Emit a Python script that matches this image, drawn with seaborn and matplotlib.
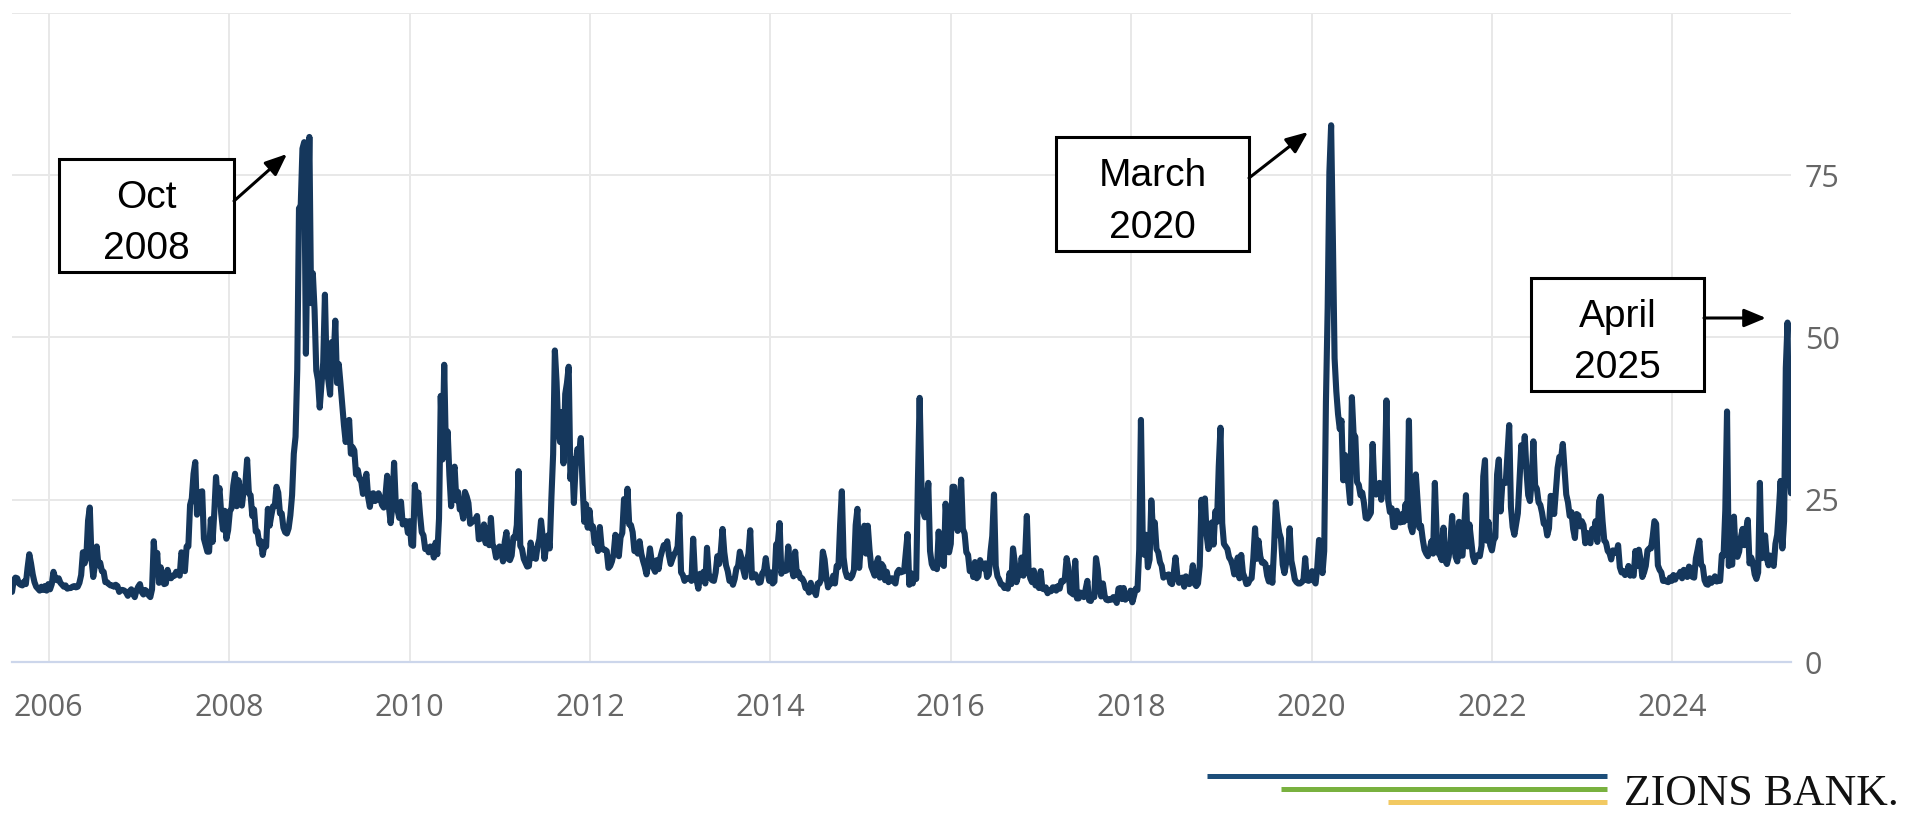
import pandas as pd
import matplotlib
matplotlib.use("Agg")
import matplotlib.pyplot as plt
from matplotlib.patches import Rectangle, FancyArrowPatch
from matplotlib.lines import Line2D
import seaborn as sns

# Weekly (Friday) VIX readings, one list per calendar year
start_date = "2005-08-05"
end_date = "2025-04-25"

vix_2005 = [10.8, 12.6, 13.0, 12.9, 12.1, 11.9, 11.8, 12.4, 12.0, 14.5, 16.6, 15.2, 13.5,
            12.3, 11.6, 11.3, 11.0, 11.6, 11.1, 11.7, 11.0, 12.0]
vix_2006 = [11.2, 12.0, 13.9, 12.9, 12.6, 12.9, 12.2, 11.9, 11.6, 11.8, 11.3, 11.4, 11.4,
            11.6, 11.7, 11.5, 11.6, 12.2, 13.4, 16.9, 15.2, 16.2, 21.8, 23.8, 15.8, 13.1,
            15.0, 17.8, 14.9, 15.3, 14.0, 13.9, 12.3, 12.3, 12.0, 11.8, 11.8, 11.6, 11.9,
            11.7, 10.8, 11.1, 11.1, 11.0, 10.7, 10.2, 10.9, 11.2, 10.5, 10.0, 11.0, 11.6]
vix_2007 = [12.0, 10.8, 10.4, 11.1, 10.9, 10.3, 10.0, 11.2, 18.6, 14.4, 16.8, 12.2, 14.6,
            13.2, 12.0, 12.1, 14.2, 13.1, 12.9, 13.3, 13.3, 13.9, 13.7, 13.3, 16.9, 16.2,
            14.0, 17.8, 17.8, 24.2, 25.2, 29.0, 30.8, 22.7, 23.4, 26.2, 26.3, 19.0, 18.0,
            17.0, 17.0, 22.0, 18.5, 23.0, 28.5, 24.9, 26.8, 22.9, 20.4, 23.3, 19.0, 20.3]
vix_2008 = [23.2, 23.7, 27.2, 29.0, 24.0, 28.0, 25.0, 24.1, 26.5, 27.5, 31.2, 26.0, 25.7,
            22.5, 23.5, 20.1, 20.1, 18.2, 18.6, 16.5, 18.0, 17.8, 23.6, 21.0, 22.6, 24.0,
            24.0, 27.0, 26.1, 22.9, 22.9, 20.7, 20.0, 19.8, 20.6, 22.6, 25.7, 32.1, 34.7,
            45.1, 69.9, 70.3, 79.1, 80.1, 47.5, 66.3, 80.9, 55.3, 59.9, 54.3, 44.9, 43.4]
vix_2009 = [39.2, 42.8, 46.1, 56.6, 44.8, 43.4, 41.2, 49.3, 46.4, 52.6, 43.0, 45.9, 42.9,
            39.7, 36.5, 33.9, 35.3, 37.3, 32.1, 33.1, 32.6, 28.9, 29.6, 28.2, 27.9, 25.9,
            27.9, 29.0, 25.4, 23.9, 25.9, 26.0, 24.8, 25.0, 26.0, 25.3, 24.2, 23.8, 25.6,
            28.7, 24.0, 21.4, 24.0, 30.7, 24.2, 23.4, 22.2, 24.7, 21.2, 21.6, 21.7, 19.9]
vix_2010 = [21.7, 18.1, 17.9, 27.3, 24.6, 26.1, 22.7, 20.0, 19.5, 17.4, 17.6, 16.9, 17.8,
            17.5, 16.1, 18.4, 16.6, 22.1, 41.0, 31.2, 45.8, 32.1, 35.5, 28.8, 24.0, 29.0,
            30.1, 24.9, 26.2, 23.5, 23.5, 22.1, 26.2, 25.5, 24.5, 21.3, 21.6, 21.7, 22.0,
            22.5, 18.9, 19.0, 19.1, 21.2, 18.3, 20.6, 18.0, 22.2, 18.0, 17.6, 16.1, 16.5, 17.8]
vix_2011 = [17.1, 15.5, 18.5, 20.0, 15.9, 15.7, 16.4, 19.2, 19.1, 21.1, 29.4, 17.9,
            17.4, 15.9, 15.3, 14.7, 14.8, 18.4, 16.0, 17.4, 15.9, 17.9, 18.9, 21.8, 19.2,
            15.9, 17.9, 19.5, 17.5, 25.3, 32.0, 48.0, 43.1, 35.6, 33.9, 38.5, 30.6, 41.3, 43.0,
            45.5, 28.2, 31.3, 24.5, 30.2, 32.8, 32.0, 34.5, 27.5, 21.6, 24.3, 20.7, 23.4]
vix_2012 = [20.6, 20.9, 18.3, 18.5, 17.1, 20.8, 17.8, 17.3, 17.3, 17.1, 14.5, 14.8, 15.5,
            16.7, 19.6, 17.4, 16.3, 19.2, 19.9, 25.1, 21.8, 26.7, 21.2, 21.1, 20.0, 17.1,
            17.1, 16.7, 18.6, 16.7, 15.6, 14.7, 13.5, 15.2, 17.5, 15.6, 14.5, 13.9, 15.7,
            14.3, 16.1, 17.1, 18.0, 17.6, 18.6, 16.4, 15.1, 15.9, 16.6, 17.0, 17.8, 22.7]
vix_2013 = [13.8, 13.4, 12.5, 12.9, 12.9, 13.0, 12.5, 19.0, 13.5, 12.6, 11.3, 13.6, 12.7,
            13.9, 12.1, 17.6, 13.6, 12.9, 12.6, 12.5, 13.8, 16.3, 15.1, 17.1, 20.5, 16.9,
            14.9, 14.0, 12.5, 12.7, 11.9, 12.8, 14.4, 14.8, 17.0, 15.9, 14.2, 13.1, 15.5,
            16.7, 20.3, 13.0, 13.1, 13.5, 12.9, 12.2, 12.3, 13.7, 14.0, 16.0, 13.8, 12.5]
vix_2014 = [13.8, 12.1, 12.4, 18.1, 18.4, 21.4, 13.6, 14.7, 14.0, 14.1, 17.8, 15.0, 14.4,
            13.2, 17.0, 13.4, 13.8, 12.9, 12.9, 12.4, 11.4, 11.4, 10.7, 12.2, 10.9, 11.3,
            10.3, 12.1, 12.1, 12.7, 17.0, 15.8, 13.2, 11.5, 12.1, 12.1, 13.3, 12.1, 14.8,
            14.6, 21.2, 26.3, 16.1, 14.0, 13.1, 13.3, 12.9, 13.3, 14.2, 21.1, 23.6, 14.5]
vix_2015 = [17.8, 17.6, 21.0, 16.7, 21.0, 17.3, 14.7, 14.0, 13.3, 15.2, 16.0, 13.0, 15.1,
            14.7, 12.6, 13.9, 12.3, 12.7, 12.9, 12.4, 12.1, 13.8, 14.2, 13.8, 13.9, 14.0,
            16.8, 19.7, 11.9, 13.7, 12.1, 13.4, 12.8, 28.0, 40.7, 27.8, 23.2, 22.3, 23.6,
            27.6, 17.1, 15.1, 14.5, 15.1, 14.3, 20.1, 15.5, 15.1, 14.8, 24.4, 20.7, 16.9]
vix_2016 = [18.2, 27.0, 27.0, 22.3, 20.2, 23.4, 28.1, 20.5, 19.8, 16.9, 16.5, 14.0, 14.7,
            13.1, 15.4, 12.9, 13.2, 15.7, 14.7, 14.4, 15.2, 13.1, 13.5, 17.0, 19.4, 25.8,
            14.8, 13.2, 12.7, 12.0, 11.9, 11.4, 11.6, 11.3, 13.7, 12.0, 17.5, 15.4, 12.3, 13.3,
            13.5, 16.1, 13.3, 16.2, 22.5, 14.2, 12.9, 12.3, 14.1, 11.8, 12.2, 11.4, 14.0]
vix_2017 = [11.3, 11.2, 11.5, 10.6, 11.0, 10.9, 11.5, 11.5, 11.0, 11.7, 11.3, 12.5, 12.4,
            12.9, 16.0, 14.6, 10.8, 10.6, 10.4, 15.6, 9.8, 9.8, 10.7, 10.4, 10.0, 11.2,
            12.5, 9.5, 9.4, 10.3, 10.0, 16.0, 14.3, 11.3, 10.1, 12.1, 10.2, 9.6, 9.5,
            9.7, 9.6, 10.0, 9.8, 9.1, 11.3, 11.4, 9.7, 11.4, 9.6, 10.5, 9.9, 11.0]
vix_2018 = [9.2, 10.2, 11.3, 11.1, 17.3, 37.3, 19.5, 16.5, 19.6, 14.6, 15.8, 24.9, 20.0,
            21.5, 17.4, 16.9, 15.4, 14.8, 13.0, 13.4, 13.2, 13.5, 12.2, 12.0, 13.8, 16.1,
            13.4, 12.2, 12.9, 13.0, 11.6, 13.2, 12.6, 12.0, 12.9, 14.9, 12.1, 11.7, 12.1,
            14.8, 25.0, 19.9, 25.2, 19.5, 17.4, 18.1, 21.5, 18.1, 23.2, 21.6, 30.1, 36.1]
vix_2019 = [21.4, 18.2, 17.8, 17.4, 16.1, 15.7, 14.9, 13.5, 14.6, 16.1, 12.9, 16.5, 13.7,
            13.0, 12.0, 12.1, 12.7, 12.9, 16.0, 20.6, 15.9, 18.7, 16.3, 15.3, 15.4, 15.1,
            13.3, 12.4, 14.5, 12.2, 17.6, 24.6, 21.7, 19.9, 19.0, 15.0, 13.7, 15.3, 16.0,
            20.6, 15.6, 14.3, 12.7, 12.3, 12.1, 12.1, 12.3, 12.6, 16.0, 12.6, 12.5, 12.7]
vix_2020 = [14.0, 12.6, 12.1, 14.6, 18.8, 15.5, 13.7, 17.1, 40.1, 54.5, 75.5, 82.7, 65.5,
            46.8, 41.7, 38.2, 35.9, 37.2, 28.0, 31.9, 28.2, 27.5, 24.5, 40.8, 35.1, 34.7,
            27.7, 27.3, 25.7, 26.1, 24.5, 22.2, 22.1, 22.5, 23.0, 33.6, 26.9, 25.8, 26.4,
            27.6, 25.0, 27.4, 27.6, 40.3, 24.9, 23.1, 23.7, 20.8, 20.8, 23.3, 21.6, 21.5]
vix_2021 = [22.8, 21.6, 24.3, 21.9, 37.2, 20.9, 20.0, 22.1, 28.9, 24.7, 20.7, 21.0, 18.9,
            17.3, 16.7, 16.3, 17.3, 18.6, 16.7, 27.6, 20.2, 16.8, 16.4, 15.7, 20.7, 15.6,
            15.1, 16.2, 18.5, 22.5, 18.2, 16.2, 15.5, 21.6, 16.4, 16.4, 21.0, 25.7, 17.8,
            21.2, 18.8, 16.3, 15.4, 16.3, 16.5, 16.3, 17.9, 28.6, 31.1, 18.7, 21.6, 18.0, 17.2]
vix_2022 = [18.8, 19.2, 28.9, 31.2, 23.2, 27.4, 27.8, 27.6, 32.0, 36.5, 23.9, 20.8,
            19.6, 21.2, 22.9, 28.2, 33.4, 30.2, 34.8, 29.4, 25.7, 24.8, 27.8, 34.0, 27.2,
            26.7, 24.6, 24.2, 23.0, 21.3, 21.2, 19.5, 20.6, 25.6, 25.5, 22.8, 26.3, 29.9, 31.6,
            31.4, 33.6, 29.7, 25.8, 24.6, 22.5, 23.1, 20.5, 19.1, 22.8, 22.6, 20.9, 21.7]
vix_2023 = [21.1, 18.3, 19.9, 18.5, 18.3, 20.5, 20.0, 21.7, 18.5, 24.8, 25.5, 21.7, 18.7,
            18.4, 17.1, 16.8, 15.8, 17.2, 17.0, 16.8, 18.0, 14.6, 13.8, 14.0, 13.4, 13.6,
            14.8, 13.3, 13.6, 13.3, 17.1, 14.8, 17.3, 15.7, 13.1, 13.8, 14.8, 17.2, 17.5,
            17.5, 19.3, 21.7, 21.3, 14.9, 14.2, 13.8, 12.5, 12.6, 12.4, 12.3, 13.0, 12.5]
vix_2024 = [13.4, 12.7, 13.3, 13.3, 13.9, 12.9, 14.2, 13.8, 13.1, 14.7, 14.4, 13.1, 13.0,
            16.0, 17.3, 18.7, 15.0, 14.7, 12.6, 12.0, 11.9, 12.9, 12.2, 12.7, 13.2, 12.4,
            12.5, 12.5, 16.5, 16.4, 23.4, 38.6, 14.8, 15.9, 15.0, 22.4, 16.6, 16.2, 17.0,
            19.2, 20.5, 18.0, 20.3, 21.9, 15.2, 16.1, 15.2, 13.5, 12.8, 13.8, 27.6, 16.0]
vix_2025 = [16.1, 19.5, 16.0, 14.9, 16.4, 15.5, 14.8, 18.2, 19.6, 23.4, 27.9, 17.5, 21.7,
            45.3, 52.3, 29.7, 26.0]

tick_years = [2006, 2008, 2010, 2012, 2014, 2016, 2018, 2020, 2022, 2024]
y_ticks = [0, 25, 50, 75, 100]
y_tick_labels = ["0", "25", "50", "75", ""]

callouts = ["Oct\n2008", "March\n2020", "April\n2025"]

yearly = {
    2005: vix_2005, 2006: vix_2006, 2007: vix_2007, 2008: vix_2008, 2009: vix_2009,
    2010: vix_2010, 2011: vix_2011, 2012: vix_2012, 2013: vix_2013, 2014: vix_2014,
    2015: vix_2015, 2016: vix_2016, 2017: vix_2017, 2018: vix_2018, 2019: vix_2019,
    2020: vix_2020, 2021: vix_2021, 2022: vix_2022, 2023: vix_2023, 2024: vix_2024,
    2025: vix_2025,
}

frames = []
for year, vals in yearly.items():
    lo = max(pd.Timestamp(start_date), pd.Timestamp(f"{year}-01-01"))
    hi = min(pd.Timestamp(end_date), pd.Timestamp(f"{year}-12-31"))
    fridays = pd.date_range(lo, hi, freq="W-FRI")
    if len(fridays) != len(vals):
        raise ValueError(f"{year}: {len(fridays)} fridays but {len(vals)} values")
    frames.append(pd.DataFrame({"date": fridays, "vix": vals}))
df = pd.concat(frames, ignore_index=True)

# Style
sns.set_style("white")
plt.rcParams["font.family"] = ["Open Sans", "DejaVu Sans"]

W, H = 1921, 817
fig = plt.figure(figsize=(W / 100, H / 100), dpi=100)
ax = fig.add_axes([12 / W, (H - 662) / H, (1791 - 12) / W, (662 - 13) / H])

sns.lineplot(data=df, x="date", y="vix", ax=ax, color="#15375c", linewidth=4.4)

ax.set_xlim(df["date"].iloc[0], df["date"].iloc[-1])
ax.set_ylim(0, 100)
ax.set_xlabel("")
ax.set_ylabel("")

ax.set_xticks([pd.Timestamp(f"{y}-01-01") for y in tick_years])
ax.set_xticklabels([str(y) for y in tick_years])
ax.yaxis.tick_right()
ax.set_yticks(y_ticks)
ax.set_yticklabels(y_tick_labels)

ax.grid(True, color="#e8e8e8", linewidth=1.4)
ax.set_axisbelow(True)
ax.tick_params(axis="x", length=14, width=1.4, color="#ccd6eb",
               labelsize=22, labelcolor="#666666", pad=8)
ax.tick_params(axis="y", length=0, labelsize=22, labelcolor="#666666", pad=10)

for side in ["top", "left", "right"]:
    ax.spines[side].set_visible(False)
ax.spines["bottom"].set_color("#ccd6eb")
ax.spines["bottom"].set_linewidth(1.6)


def fxy(px, py):
    return px / W, 1 - py / H


# Call-out boxes with arrows (pixel positions in the figure)
box_layout = [
    ((59, 159, 234, 272), (234, 201), (287, 154)),
    ((1056, 137, 1249, 251), (1249, 178), (1308, 132)),
    ((1531, 278, 1704, 391), (1704, 318), (1766, 318)),
]
for label, (box, start, tip) in zip(callouts, box_layout):
    x0, y0, x1, y1 = box
    fig.add_artist(Rectangle(fxy(x0, y1), (x1 - x0) / W, (y1 - y0) / H,
                             transform=fig.transFigure, facecolor="white",
                             edgecolor="black", linewidth=2.2, zorder=5))
    fig.text(*fxy((x0 + x1) / 2, (y0 + y1) / 2 + 8), label, ha="center", va="center",
             fontsize=28, family="Liberation Sans", color="black",
             linespacing=1.55, zorder=6)
    fig.add_artist(FancyArrowPatch(fxy(*start), fxy(*tip), transform=fig.transFigure,
                                   arrowstyle="-|>,head_length=0.6,head_width=0.25",
                                   mutation_scale=22, linewidth=2.2, color="black",
                                   shrinkA=0, shrinkB=0, zorder=6))

# Zions Bank logo
for (xa, ya, color) in [(1207, 776, "#1d4e7a"), (1281, 789, "#79b13f"), (1388, 802, "#f2c962")]:
    fig.add_artist(Line2D([xa / W, 1607 / W], [1 - ya / H, 1 - ya / H],
                          transform=fig.transFigure, color=color, linewidth=3.6,
                          solid_capstyle="butt"))
fig.text(*fxy(1624, 805), "ZIONS BANK.", ha="left", va="baseline", fontsize=31.5,
         family="Liberation Serif", color="#111111")

fig.savefig("out.png", dpi=100)
